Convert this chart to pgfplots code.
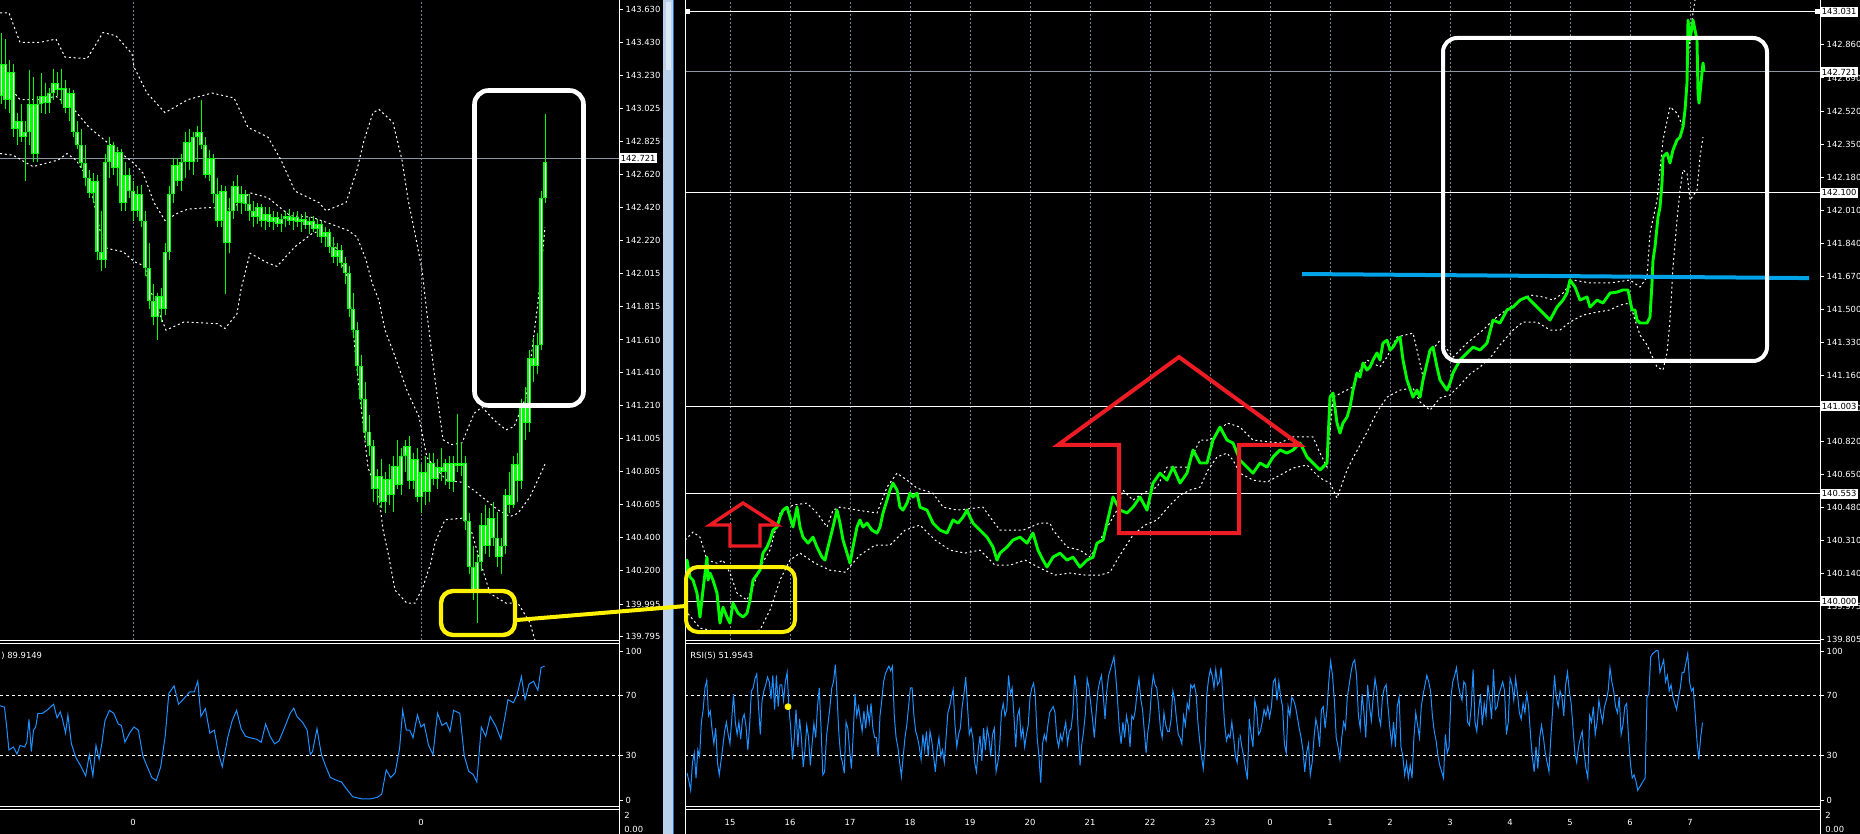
\documentclass[border=0pt]{standalone}
\usepackage{pgfplots}
\pgfplotsset{compat=1.18}
\usepackage{pgfplotstable}
\usepackage{fontspec}
\setmainfont{DejaVu Sans}
\newcommand\mtfont{\fontsize{4.2pt}{5pt}\selectfont}
\definecolor{cgreen}{RGB}{0,255,0}
\definecolor{crsi}{RGB}{30,144,255}
\definecolor{cgrid}{RGB}{115,130,150}
\definecolor{cred}{RGB}{237,28,36}
\definecolor{cyel}{RGB}{255,242,0}
\definecolor{cblue}{RGB}{0,162,232}
\definecolor{csplit}{RGB}{185,209,234}
\definecolor{csplitl}{RGB}{220,232,245}
\definecolor{csplitd}{RGB}{40,110,200}
\definecolor{clevel}{RGB}{140,150,165}

\pgfplotsset{
  mt/.style={scale only axis, anchor=north west, axis line style={draw=none},
    tick style={draw=white, line width=0.5pt}, tick align=outside, major tick length=2pt,
    ytick pos=right, yticklabel pos=right, xtick pos=bottom,
    every tick label/.append style={font=\mtfont, text=white},
    yticklabel style={anchor=west, xshift=-2.2pt}, enlargelimits=false,
    grid style={cgrid, line width=0.5pt, dash pattern=on 1pt off 1pt}},
  band/.style={white, line width=0.5pt, dash pattern=on 1pt off 1.4pt},
  lvl/.style={white, line width=0.5pt, dash pattern=on 1.5pt off 1.5pt},
  ebonly/.style={only marks, mark=*, mark size=0pt, mark options={draw opacity=0, fill opacity=0}},
}

% ---------------- left candles (o h l c), one per 4 px -----------------
\pgfplotstableread{
o h l c
143.10 143.49 143.05 143.30
143.30 143.45 143.02 143.08
143.08 143.32 143.00 143.25
143.25 143.30 142.85 142.90
142.90 143.00 142.80 142.95
142.95 143.05 142.82 142.85
142.85 142.95 142.58 142.88
142.88 143.26 142.80 143.05
143.05 143.22 142.70 142.75
142.75 143.10 142.70 143.05
143.05 143.24 143.00 143.10
143.10 143.18 142.99 143.06
143.06 143.15 143.00 143.12
143.12 143.27 143.08 143.18
143.18 143.25 143.10 143.14
143.14 143.27 143.05 143.15
143.15 143.20 143.00 143.03
143.03 143.15 142.95 143.12
143.12 143.14 142.85 142.88
142.88 142.95 142.78 142.80
142.80 142.90 142.66 142.69
142.69 142.80 142.55 142.60
142.60 142.65 142.48 142.51
142.51 142.63 142.45 142.58
142.58 142.62 142.10 142.15
142.15 142.40 142.03 142.10
142.10 142.75 142.05 142.70
142.70 142.85 142.60 142.80
142.80 142.82 142.62 142.66
142.66 142.79 142.55 142.76
142.76 142.78 142.40 142.45
142.45 142.70 142.40 142.62
142.62 142.66 142.48 142.52
142.52 142.58 142.34 142.40
142.40 142.55 142.36 142.50
142.50 142.56 142.30 142.34
142.34 142.40 142.00 142.05
142.05 142.20 141.80 141.85
141.85 141.95 141.70 141.75
141.75 141.90 141.61 141.88
141.88 141.93 141.72 141.80
141.80 142.20 141.76 142.15
142.15 142.55 142.10 142.50
142.50 142.72 142.45 142.68
142.68 142.72 142.55 142.58
142.58 142.75 142.52 142.70
142.70 142.88 142.60 142.82
142.82 142.90 142.65 142.70
142.70 142.88 142.62 142.85
142.85 142.92 142.70 142.88
142.88 143.08 142.78 142.80
142.80 142.85 142.60 142.62
142.62 142.77 142.58 142.72
142.72 142.75 142.45 142.50
142.50 142.60 142.30 142.34
142.34 142.56 142.30 142.52
142.52 142.55 141.89 142.20
142.20 142.48 142.14 142.40
142.40 142.58 142.35 142.55
142.55 142.62 142.40 142.45
142.45 142.55 142.38 142.50
142.50 142.53 142.40 142.44
142.44 142.50 142.34 142.40
142.40 142.46 142.30 142.36
142.36 142.45 142.32 142.42
142.42 142.44 142.30 142.34
142.34 142.42 142.28 142.38
142.38 142.42 142.30 142.33
142.33 142.40 142.28 142.36
142.36 142.39 142.30 142.32
142.32 142.38 142.27 142.35
142.35 142.40 142.30 142.37
142.37 142.41 142.31 142.34
142.34 142.39 142.28 142.36
142.36 142.40 142.30 142.33
142.33 142.38 142.27 142.35
142.35 142.39 142.29 142.31
142.31 142.36 142.26 142.34
142.34 142.37 142.27 142.29
142.29 142.35 142.24 142.32
142.32 142.34 142.20 142.24
142.24 142.30 142.18 142.27
142.27 142.29 142.14 142.18
142.18 142.24 142.08 142.12
142.12 142.20 142.06 142.16
142.16 142.19 142.05 142.08
142.08 142.12 141.95 142.02
142.02 142.06 141.75 141.80
141.80 141.90 141.62 141.67
141.67 141.72 141.40 141.45
141.45 141.52 141.20 141.25
141.25 141.35 141.00 141.05
141.05 141.15 140.90 140.96
140.96 141.00 140.62 140.70
140.70 140.82 140.60 140.78
140.78 140.88 140.58 140.62
140.62 140.80 140.55 140.76
140.76 140.85 140.60 140.66
140.66 140.90 140.56 140.84
140.84 141.00 140.70 140.72
140.72 140.95 140.66 140.90
140.90 141.00 140.80 140.96
140.96 141.02 140.70 140.75
140.75 140.92 140.70 140.88
140.88 140.95 140.62 140.65
140.65 140.85 140.55 140.80
140.80 140.90 140.60 140.68
140.68 140.92 140.62 140.86
140.86 140.92 140.72 140.76
140.76 140.88 140.70 140.83
140.83 140.95 140.75 140.80
140.80 140.88 140.72 140.86
140.86 140.90 140.70 140.74
140.74 140.90 140.68 140.86
140.86 141.16 140.80 140.84
140.84 140.98 140.78 140.86
140.86 140.90 140.45 140.50
140.50 140.55 140.18 140.22
140.22 140.35 140.02 140.08
140.08 140.30 139.88 140.25
140.25 140.55 140.20 140.48
140.48 140.60 140.30 140.35
140.35 140.58 140.28 140.52
140.52 140.62 140.35 140.40
140.40 140.56 140.22 140.28
140.28 140.40 140.18 140.35
140.35 140.70 140.30 140.66
140.66 140.80 140.55 140.60
140.60 140.90 140.58 140.85
140.85 140.92 140.62 140.75
140.75 141.25 140.70 141.20
141.20 141.32 141.00 141.10
141.10 141.55 141.05 141.50
141.50 141.62 141.35 141.45
141.45 141.65 141.40 141.58
141.58 142.52 141.55 142.48
142.48 142.99 142.45 142.70
}\candles

\pgfplotstableread{
x p
0 143.61
9 143.61
20 143.43
27 143.43
40 143.43
56 143.45
65 143.34
87 143.33
103 143.49
116 143.47
132 143.36
134 143.28
147 143.12
165 143.00
188 143.08
212 143.12
234 143.09
248 142.91
268 142.85
281 142.71
295 142.52
319 142.45
326 142.40
346 142.45
357 142.65
364 142.83
373 143.00
379 143.02
393 142.94
402 142.71
408 142.47
415 142.26
422 142.04
427 141.77
435 141.37
443 141.00
451 140.97
462 140.98
474 141.16
482 141.20
494 141.12
506 141.06
514 141.08
526 141.26
538 141.84
545 142.30
}\lup

\pgfplotstableread{
x p
0 143.17
9 143.16
20 143.08
40 143.08
56 143.10
74 143.02
89 142.91
107 142.82
134 142.69
143 142.63
154 142.45
165 142.34
179 142.39
188 142.41
210 142.42
232 142.41
250 142.51
268 142.48
290 142.37
312 142.36
326 142.33
348 142.28
357 142.24
366 142.10
372 141.96
379 141.85
385 141.67
395 141.51
407 141.30
419 141.14
427 140.89
435 140.83
447 140.75
462 140.74
474 140.69
486 140.63
498 140.57
510 140.53
518 140.55
530 140.65
545 140.85
}\lmid

\pgfplotstableread{
x p
0 142.75
13 142.74
33 142.67
58 142.71
67 142.75
76 142.71
89 142.59
100 142.28
107 142.17
123 142.15
134 142.09
145 142.06
150 141.92
166 141.67
184 141.72
217 141.71
225 141.68
237 141.77
241 141.92
250 142.14
268 142.08
277 142.06
295 142.18
312 142.26
321 142.28
335 142.19
348 141.98
358 141.37
368 140.83
379 140.65
383 140.45
389 140.28
395 140.08
407 140.00
415 140.00
423 140.10
431 140.25
435 140.37
445 140.51
462 140.52
470 140.47
480 140.26
490 140.06
506 140.00
518 140.00
530 139.88
536 139.75
}\llow

% ---------------- left RSI -----------------
\pgfplotstableread{
x r
0 63.3
4.5 62.3
6.7 49.0
8.9 33.6
13.4 35.6
17 30.9
20.1 36.6
24.6 35.6
26.8 38.7
29 54.1
31.3 32.5
33.5 46.9
35.7 49.0
37.9 58.2
42.4 58.2
46.9 60.2
53.6 64.3
57.1 55.1
60.3 59.2
62.5 54.1
65.6 44.9
67.9 57.1
71.4 37.7
75.9 28.4
80.4 23.3
85.7 16.2
89.3 30.5
92.9 16.2
96 36.6
99.1 27.4
101.8 37.7
104.9 53.1
109.4 60.2
113.8 58.2
118.3 51.0
121.4 50.0
125 38.7
129.5 44.9
133.9 49.0
138.4 46.9
142.9 29.5
147.3 22.3
151.8 15.1
156.3 13.1
160.7 22.3
165.2 42.8
168.8 71.5
174.1 76.6
178.6 64.3
183 67.4
189.7 72.5
194.2 72.5
197.8 79.7
200.9 56.1
205.4 61.3
209.8 44.9
214.3 46.9
218.8 30.5
222.3 22.3
227.7 41.8
232.1 53.1
236.6 60.2
241.1 47.9
245.5 42.8
250 41.8
256.7 40.8
261.2 38.7
265.6 51.0
270.1 42.8
274.6 37.7
279 39.7
283.5 46.9
290.2 58.2
293.8 61.7
296.9 56.1
302.7 52.0
307.1 46.9
310.3 30.5
312.5 32.5
317 47.9
321.4 30.5
325.9 22.3
330.4 15.1
337.1 13.1
341.5 12.1
346 7.9
352.7 2.2
361.6 0.8
370.5 0.8
377.2 1.8
381.7 3.9
386.2 20.2
390.6 15.1
395.1 18.2
399.6 34.6
402.7 60.2
406.3 46.9
409.8 46.9
413 41.8
417.4 57.1
421 49.0
424.1 51.0
428.6 36.6
433 30.5
437.5 58.2
442 50.0
446.4 52.0
450 45.9
453.6 60.2
459.8 58.2
464.3 29.5
468.8 19.2
473.2 17.2
476.8 12.1
481.3 49.0
485.7 42.8
490.2 56.1
495.5 50.0
500.9 40.8
504.5 54.1
508 67.4
513.4 65.3
517 70.5
521.4 82.8
525 67.4
529 77.7
533.5 79.7
537.9 73.6
541.1 88.9
544.6 89.9
}\rsiL

% ---------------- right price line -----------------
\pgfplotstableread{
x p
684 140.110
687 140.211
690 140.123
693 140.108
697 140.041
700 139.918
703 140.057
707 140.226
708 140.108
710 140.144
713 140.108
717 140.041
720 139.887
723 139.969
727 139.918
730 139.887
733 139.990
738 139.938
743 139.918
747 139.938
750 140.005
753 140.108
760 140.159
763 140.247
767 140.278
770 140.314
773 140.365
777 140.381
780 140.432
783 140.468
787 140.483
790 140.432
793 140.381
797 140.483
800 140.381
803 140.329
808 140.298
813 140.329
817 140.278
822 140.226
825 140.211
828 140.278
833 140.381
837 140.468
840 140.401
843 140.314
847 140.247
850 140.195
853 140.278
857 140.381
860 140.417
863 140.381
867 140.401
872 140.365
877 140.350
880 140.381
883 140.453
887 140.519
890 140.571
893 140.607
897 140.571
900 140.483
903 140.468
907 140.504
910 140.555
913 140.535
917 140.555
920 140.483
927 140.468
933 140.401
940 140.365
947 140.350
953 140.417
958 140.401
963 140.432
967 140.468
970 140.432
973 140.401
980 140.365
987 140.329
993 140.278
997 140.211
1000 140.247
1007 140.278
1013 140.314
1020 140.329
1027 140.298
1033 140.350
1038 140.262
1043 140.211
1047 140.175
1053 140.226
1060 140.247
1067 140.211
1073 140.226
1080 140.175
1087 140.211
1093 140.226
1097 140.298
1103 140.314
1110 140.468
1113 140.535
1120 140.468
1127 140.453
1133 140.483
1140 140.535
1147 140.468
1153 140.607
1160 140.658
1167 140.622
1173 140.689
1180 140.607
1187 140.658
1193 140.777
1200 140.710
1207 140.710
1213 140.828
1220 140.895
1227 140.828
1233 140.813
1240 140.725
1247 140.689
1253 140.658
1260 140.710
1267 140.689
1273 140.741
1280 140.777
1287 140.761
1293 140.777
1300 140.813
1307 140.741
1313 140.710
1320 140.674
1327 140.710
1330 141.049
1333 141.070
1337 140.916
1340 140.864
1343 140.916
1347 140.946
1350 140.998
1353 141.085
1357 141.173
1360 141.152
1363 141.224
1367 141.188
1370 141.204
1373 141.240
1377 141.276
1380 141.240
1383 141.327
1387 141.342
1390 141.291
1393 141.306
1397 141.342
1400 141.358
1403 141.240
1407 141.137
1413 141.049
1417 141.085
1420 141.049
1423 141.137
1427 141.224
1430 141.291
1433 141.306
1437 141.204
1440 141.137
1447 141.085
1450 141.121
1453 141.173
1460 141.240
1467 141.276
1473 141.306
1480 141.291
1487 141.327
1493 141.445
1500 141.430
1507 141.497
1513 141.512
1520 141.548
1527 141.564
1533 141.533
1540 141.497
1547 141.461
1550 141.445
1557 141.512
1563 141.548
1567 141.584
1570 141.651
1575 141.615
1580 141.548
1587 141.564
1590 141.512
1597 141.548
1603 141.533
1610 141.584
1617 141.589
1623 141.600
1628 141.600
1630 141.548
1632 141.497
1635 141.497
1637 141.445
1640 141.430
1647 141.430
1650 141.461
1652 141.636
1653 141.754
1655 141.821
1658 141.975
1660 142.026
1662 142.150
1663 142.284
1667 142.304
1670 142.253
1673 142.320
1677 142.371
1680 142.386
1683 142.438
1685 142.525
1687 142.664
1688 142.988
1690 142.885
1693 142.988
1697 142.885
1698 142.613
1699 142.561
1701 142.664
1703 142.767
1704 142.721
}\rline

\pgfplotstableread{
x p
685 140.314
693 140.355
700 140.329
707 140.211
717 140.195
723 140.211
730 140.144
737 140.041
747 140.005
753 140.072
760 140.175
770 140.262
780 140.453
793 140.494
807 140.504
817 140.453
827 140.381
833 140.468
840 140.483
857 140.468
877 140.453
887 140.586
897 140.658
907 140.622
917 140.581
933 140.555
943 140.483
957 140.468
983 140.483
990 140.432
1000 140.365
1023 140.365
1040 140.401
1050 140.401
1053 140.365
1067 140.278
1080 140.262
1090 140.226
1100 140.314
1117 140.468
1123 140.571
1133 140.519
1143 140.555
1157 140.586
1167 140.689
1187 140.689
1200 140.828
1210 140.828
1227 140.916
1240 140.895
1253 140.828
1280 140.813
1293 140.844
1313 140.844
1320 140.761
1327 140.689
1333 141.049
1353 141.101
1360 141.188
1367 141.240
1380 141.204
1387 141.255
1397 141.358
1413 141.378
1417 141.291
1423 141.152
1430 141.276
1440 141.342
1453 141.255
1467 141.327
1483 141.394
1493 141.445
1510 141.512
1530 141.574
1543 141.564
1553 141.548
1563 141.584
1573 141.651
1590 141.636
1610 141.636
1630 141.651
1640 141.615
1647 141.666
1650 141.893
1657 142.062
1663 142.371
1670 142.541
1677 142.510
1683 142.438
1687 142.664
1690 142.921
1695 143.091
}\rup

\pgfplotstableread{
x p
685 139.954
700 139.861
720 139.841
740 139.841
760 139.851
770 139.954
780 140.108
790 140.211
800 140.247
815 140.195
830 140.159
845 140.149
860 140.237
875 140.288
890 140.288
905 140.365
920 140.391
935 140.314
950 140.262
965 140.247
980 140.262
995 140.185
1010 140.185
1025 140.211
1040 140.170
1055 140.134
1070 140.144
1085 140.134
1100 140.134
1110 140.149
1120 140.237
1133 140.340
1145 140.391
1157 140.417
1170 140.494
1180 140.545
1190 140.571
1200 140.586
1208 140.674
1217 140.741
1227 140.761
1233 140.725
1240 140.658
1253 140.622
1267 140.612
1280 140.648
1293 140.684
1307 140.700
1320 140.633
1330 140.607
1337 140.530
1347 140.674
1353 140.736
1360 140.802
1367 140.869
1377 140.972
1387 141.049
1400 141.085
1413 141.096
1420 141.024
1430 140.982
1440 141.044
1450 141.060
1460 141.111
1470 141.168
1480 141.204
1490 141.250
1500 141.317
1513 141.394
1523 141.435
1537 141.435
1550 141.394
1560 141.394
1570 141.435
1583 141.471
1597 141.486
1610 141.497
1620 141.522
1630 141.533
1635 141.445
1640 141.368
1647 141.317
1657 141.204
1663 141.188
1667 141.276
1670 141.445
1673 141.718
1677 141.960
1680 142.114
1683 142.217
1687 142.201
1690 142.062
1697 142.114
1700 142.284
1703 142.386
}\rlow

% ---------------- right RSI, evenly sampled -----------------
\pgfplotstableread{
r
18
12.8
6.5
25.2
31.5
14.8
33.6
29.4
52.3
60.7
75.2
80.4
56.5
59.6
47.1
37.7
48.2
25.2
16.9
26.3
35.7
46.1
52.3
44
37.7
54.4
71.1
52.3
44
52.3
40.9
54.4
57.5
49.2
33.6
50.2
73.2
75.2
81.5
84.6
62.7
44
66.9
73.2
77.3
82.5
79.4
67.9
83.6
60.7
83.6
62.7
77.3
77.3
66.9
79.4
85.7
62.7
48.2
27.3
41.9
60.7
35.7
54.4
41.9
22.1
33.6
50.2
41.9
23.2
37.7
51.3
41.9
62.7
75.2
48.2
16.9
19
41.9
52.3
62.7
75.2
79.4
90.9
69
44
29.4
25.2
18
52.3
48.2
33.6
21.1
44
71.1
56.5
62.7
54.4
46.1
59.6
48.2
61.7
52.3
64.8
48.2
41.9
41.9
29.4
56.5
66.9
79.4
84.6
87.7
89.8
86.7
89.8
56.5
41.9
35.7
25.2
15.9
29.4
41.9
50.2
62.7
75.2
75.2
56.5
46.1
41.9
35.7
27.3
44
33.6
46.1
29.4
46.1
39.8
29.4
19
33.6
41.9
29.4
33.6
25.2
41.9
58.6
62.7
69
74.2
50.2
35.7
44
48.2
62.7
71.1
82.5
62.7
44
48.2
41.9
25.2
19
33.6
43
26.3
48.2
33.6
48.2
41.9
29.4
44
48.2
19
25.2
35.7
58.6
64.8
56.5
60.7
83.6
71.1
75.2
56.5
35.7
56.5
60.7
41.9
48.2
35.7
44
50.2
69
75.2
78.4
69
41.9
29.4
11.7
37.7
44
39.8
50.2
58.6
60.7
62.7
58.6
41.9
35.7
44
39.8
46.1
52.3
37.7
46.1
48.2
58.6
83.6
73.2
46.1
23.2
37.7
46.1
58.6
81.5
75.2
64.8
54.4
41.9
58.6
73.2
79.4
83.6
70
54.4
73.2
83.6
87.7
91.9
96.1
83.6
66.9
48.2
37.7
52.3
41.9
56.5
50.2
35.7
56.5
54.4
60.7
73.2
81.5
67.9
60.7
46.1
31.5
46.1
54.4
73.2
83.6
77.3
75.2
62.7
48.2
41.9
58.6
50.2
46.1
46.1
54.4
73.2
66.9
54.4
44
41.9
37.7
56.5
50.2
64.8
60.7
77.3
75.2
77.3
71.1
52.3
39.8
29.4
21.1
35.7
71.1
81.5
87.7
83.6
75.2
87.7
77.3
79.4
88.8
69
50.2
39.8
44
41.9
52.3
41.9
29.4
25.2
41.9
}\rsiA

\pgfplotstableread{
r
44
35.7
29.4
21.1
13.8
54.4
44
35.7
66.9
60.7
44
46.1
52.3
60.7
56.5
62.7
55.4
62.7
79.4
81.5
66.9
79.4
69
62.7
37.7
31.5
62.7
56.5
69
66.9
62.7
55.4
48.2
41.9
33.6
19
31.5
37.7
16.9
25.2
41.9
54.4
48.2
35.7
60.7
62.7
48.2
60.7
79.4
93
83.6
66.9
41.9
35.7
27.3
41.9
52.3
48.2
69
77.3
85.7
91.9
94
83.6
56.5
48.2
71.1
58.6
41.9
77.3
62.7
53.4
69
81.5
73.2
56.5
50.2
69
75.2
77.3
62.7
48.2
37.7
52.3
35.7
62.7
69
35.7
29.4
16.9
25.2
14.8
23.2
14.8
41.9
58.6
50.2
41.9
62.7
71.1
77.3
83.6
79.4
73.2
56.5
46.1
39.8
29.4
23.2
19
14.8
44
31.5
35.7
69
79.4
83.6
88.8
77.3
71.1
66.9
79.4
77.3
52.3
50.2
62.7
87.7
52.3
46.1
60.7
71.1
50.2
64.8
56.5
77.3
67.9
54.4
87.7
60.7
62.7
71.1
75.2
79.4
73.2
44
52.3
81.5
77.3
66.9
81.5
71.1
58.6
54.4
64.8
58.6
71.1
62.7
44
29.4
19
35.7
21.1
41.9
50.2
41.9
31.5
25.2
19
41.9
60.7
83.6
69
62.7
73.2
69
56.5
77.3
85.7
73.2
64.8
48.2
31.5
25.2
35.7
41.9
46.1
31.5
21.1
14.8
56.5
52.3
62.7
44
52.3
66.9
58.6
52.3
62.7
66.9
73.2
88.8
79.4
73.2
62.7
58.6
69
44
50.2
62.7
64.8
41.9
25.2
14.8
16.9
12.8
6.5
8.6
10.7
12.8
14.8
69
71.1
96.1
98.2
99.2
100.2
100.2
85.7
89.8
94
79.4
83.6
73.2
77.3
69
64.8
60.7
69
75.2
85.7
85.7
91.9
98.2
79.4
73.2
75.2
58.6
39.8
27.3
41.9
52
}\rsiB

\begin{document}
\begin{tikzpicture}
\path[use as bounding box] (0pt,0pt) rectangle (930pt,-417pt);
\fill[black] (0pt,0pt) rectangle (930pt,-417pt);

% ================= LEFT MAIN =================
\begin{axis}[mt, at={(0pt,0pt)}, width=309.5pt, height=320pt,
  xmin=0, xmax=619, ymin=139.775, ymax=143.689,
  xtick={133,421}, xticklabels={}, xtick style={draw=none}, xmajorgrids,
  ytick={139.795,139.995,140.200,140.400,140.605,140.805,141.005,141.210,141.410,141.610,141.815,142.015,142.220,142.420,142.620,142.825,143.025,143.230,143.430,143.630},
  yticklabels={139.795,139.995,140.200,140.400,140.605,140.805,141.005,141.210,141.410,141.610,141.815,142.015,142.220,142.420,142.620,142.825,143.025,143.230,143.430,143.630},
  extra y ticks={142.721}, extra y tick labels={142.721},
  extra y tick style={yticklabel style={fill=white, text=black, inner sep=0.9pt}}]
\addplot[clevel, line width=0.5pt] coordinates {(0,142.721) (619,142.721)};
\addplot[band] table[x=x,y=p] {\lup};
\addplot[band] table[x=x,y=p] {\lmid};
\addplot[band] table[x=x,y=p] {\llow};
% wicks
\addplot[ebonly, cgreen, error bars/.cd, y dir=minus, y explicit, error mark=none,
  error bar style={line width=0.5pt, cgreen, solid}]
  table[x expr=\coordindex*4+1, y=h, y error minus expr=\thisrow{h}-\thisrow{l}] {\candles};
% bodies
\addplot[ebonly, cgreen, error bars/.cd, y dir=minus, y explicit, error mark=none,
  error bar style={line width=1.6pt, cgreen, solid}]
  table[x expr=\coordindex*4+1, y expr={max(\thisrow{o},\thisrow{c})}, y error minus expr={abs(\thisrow{c}-\thisrow{o})}] {\candles};
% hollow (white) body interior
\addplot[ebonly, white, restrict expr to domain={abs(\thisrow{o}-\thisrow{c})}{0.013:10},
  error bars/.cd, y dir=minus, y explicit, error mark=none, error bar style={line width=0.5pt, white, solid}]
  table[x expr=\coordindex*4+1, y expr={max(\thisrow{o},\thisrow{c})-0.006}, y error minus expr={abs(\thisrow{c}-\thisrow{o})-0.012}] {\candles};
\end{axis}

% ================= LEFT RSI =================
\begin{axis}[mt, at={(0pt,-322pt)}, width=309.5pt, height=81pt,
  xmin=0, xmax=619, ymin=-4, ymax=104.7,
  ytick={0,30,70,100}, yticklabels={0,30,70,100},
  xtick={133,421}, xticklabels={0,0}, xtick style={draw=none},
  xticklabel style={yshift=-1.2pt}]
\addplot[lvl] coordinates {(0,70) (619,70)};
\addplot[lvl] coordinates {(0,30) (619,30)};
\addplot[crsi, line width=0.5pt] table[x=x,y=r] {\rsiL};
\end{axis}

% ================= RIGHT MAIN =================
\begin{axis}[mt, at={(342.5pt,0pt)}, width=567.5pt, height=320pt,
  xmin=685, xmax=1820, ymin=139.800, ymax=143.091,
  xtick={730,790,...,1690}, xticklabels={}, xtick style={draw=none}, xmajorgrids,
  ytick={139.805,139.975,140.140,140.310,140.480,140.650,140.820,140.990,141.160,141.330,141.500,141.670,141.840,142.010,142.180,142.350,142.520,142.690,142.860},
  yticklabels={139.805,139.975,140.140,140.310,140.480,140.650,140.820,140.990,141.160,141.330,141.500,141.670,141.840,142.010,142.180,142.350,142.520,142.690,142.860},
  extra y ticks={143.031,142.721,142.100,141.003,140.553,140.000},
  extra y tick labels={143.031,142.721,142.100,141.003,140.553,140.000},
  extra y tick style={yticklabel style={fill=white, text=black, inner sep=0.9pt}}]
\addplot[white, line width=0.5pt] coordinates {(685,143.031) (1820,143.031)};
\addplot[clevel, line width=0.5pt] coordinates {(685,142.721) (1820,142.721)};
\addplot[white, line width=0.5pt] coordinates {(685,142.100) (1820,142.100)};
\addplot[white, line width=0.5pt] coordinates {(685,141.003) (1820,141.003)};
\addplot[white, line width=0.5pt] coordinates {(685,140.553) (1820,140.553)};
\addplot[white, line width=0.5pt] coordinates {(685,140.000) (1820,140.000)};
\addplot[band] table[x=x,y=p] {\rup};
\addplot[band] table[x=x,y=p] {\rlow};
\addplot[cgreen, line width=1.45pt, line join=round] table[x=x,y=p] {\rline};
\addplot[cblue, line width=2pt] coordinates {(1302,141.682) (1809,141.661)};
\end{axis}

% ================= RIGHT RSI =================
\begin{axis}[mt, at={(342.5pt,-322pt)}, width=567.5pt, height=81pt,
  xmin=685, xmax=1820, ymin=-4, ymax=104.7,
  ytick={0,30,70,100}, yticklabels={0,30,70,100},
  xtick={730,790,...,1690}, xticklabels={15,16,17,18,19,20,21,22,23,0,1,2,3,4,5,6,7},
  xtick style={draw=none}, xticklabel style={yshift=-1.2pt}]
\addplot[lvl] coordinates {(685,70) (1820,70)};
\addplot[lvl] coordinates {(685,30) (1820,30)};
\addplot[crsi, line width=0.5pt] table[x expr=\coordindex*1.786+687.1, y=r] {\rsiA};
\addplot[crsi, line width=0.5pt] table[x expr=\coordindex*1.85+1240, y=r] {\rsiB};
\addplot[only marks, mark=*, mark size=1.5pt, cyel] coordinates {(788,62.6)};
\end{axis}

% ================= frame, splitter, annotations (px units) =================
\begin{scope}[x=0.5pt, y=-0.5pt]
\fill[csplit] (663,0) rectangle (673,834);
\fill[csplitl] (665.5,2) rectangle (671,70);
\draw[csplitd, line width=0.6pt] (673.5,0) -- (673.5,834);
\draw[white, line width=0.5pt] (619.5,0) -- (619.5,834);
\draw[white, line width=0.5pt] (0,640.5) -- (619.5,640.5) (0,643.5) -- (619.5,643.5)
  (0,806.5) -- (619.5,806.5) (0,809.5) -- (619.5,809.5);
\draw[white, line width=0.5pt] (685.5,0) -- (685.5,834) (1820.5,0) -- (1820.5,834);
\draw[white, line width=0.5pt] (685.5,640.5) -- (1820.5,640.5) (685.5,643.5) -- (1820.5,643.5)
  (685.5,806.5) -- (1820.5,806.5) (685.5,809.5) -- (1820.5,809.5);
\fill[white] (686,9.5) rectangle (690,14);
\fill[white] (1815,9.5) rectangle (1820,14);
\node[anchor=west, inner sep=0, font=\mtfont, text=white] at (1,656) {) 89.9149};
\node[anchor=west, inner sep=0, font=\mtfont, text=white] at (690,656) {RSI(5) 51.9543};
\foreach \xx in {624,1825}{
  \node[anchor=west, inner sep=0, font=\mtfont, text=white] at (\xx,815) {2};
  \node[anchor=west, inner sep=0, font=\mtfont, text=white] at (\xx,829) {0.00};
}
% white boxes
\draw[white, line width=2.3pt, rounded corners=7pt] (474.5,90.5) rectangle (583.5,405.5);
\draw[white, line width=2pt, rounded corners=7pt] (1443,38) rectangle (1767,361);
% yellow boxes and connector
\draw[cyel, line width=2.2pt, rounded corners=6pt] (441,591) rectangle (515,635);
\draw[cyel, line width=2pt, rounded corners=6pt] (686,567) rectangle (795,632);
\draw[cyel, line width=2pt] (517,620) -- (686,606);
% red arrows
\draw[cred, line width=1.7pt, line join=miter]
  (710,525) -- (743,503) -- (777,525) -- (760,525) -- (760,546) -- (730,546) -- (730,525) -- cycle;
\draw[cred, line width=2pt, line join=miter]
  (1058,445) -- (1179,357) -- (1300,445) -- (1239,445) -- (1239,533) -- (1119,533) -- (1119,445) -- cycle;
\end{scope}
\end{tikzpicture}
\end{document}
